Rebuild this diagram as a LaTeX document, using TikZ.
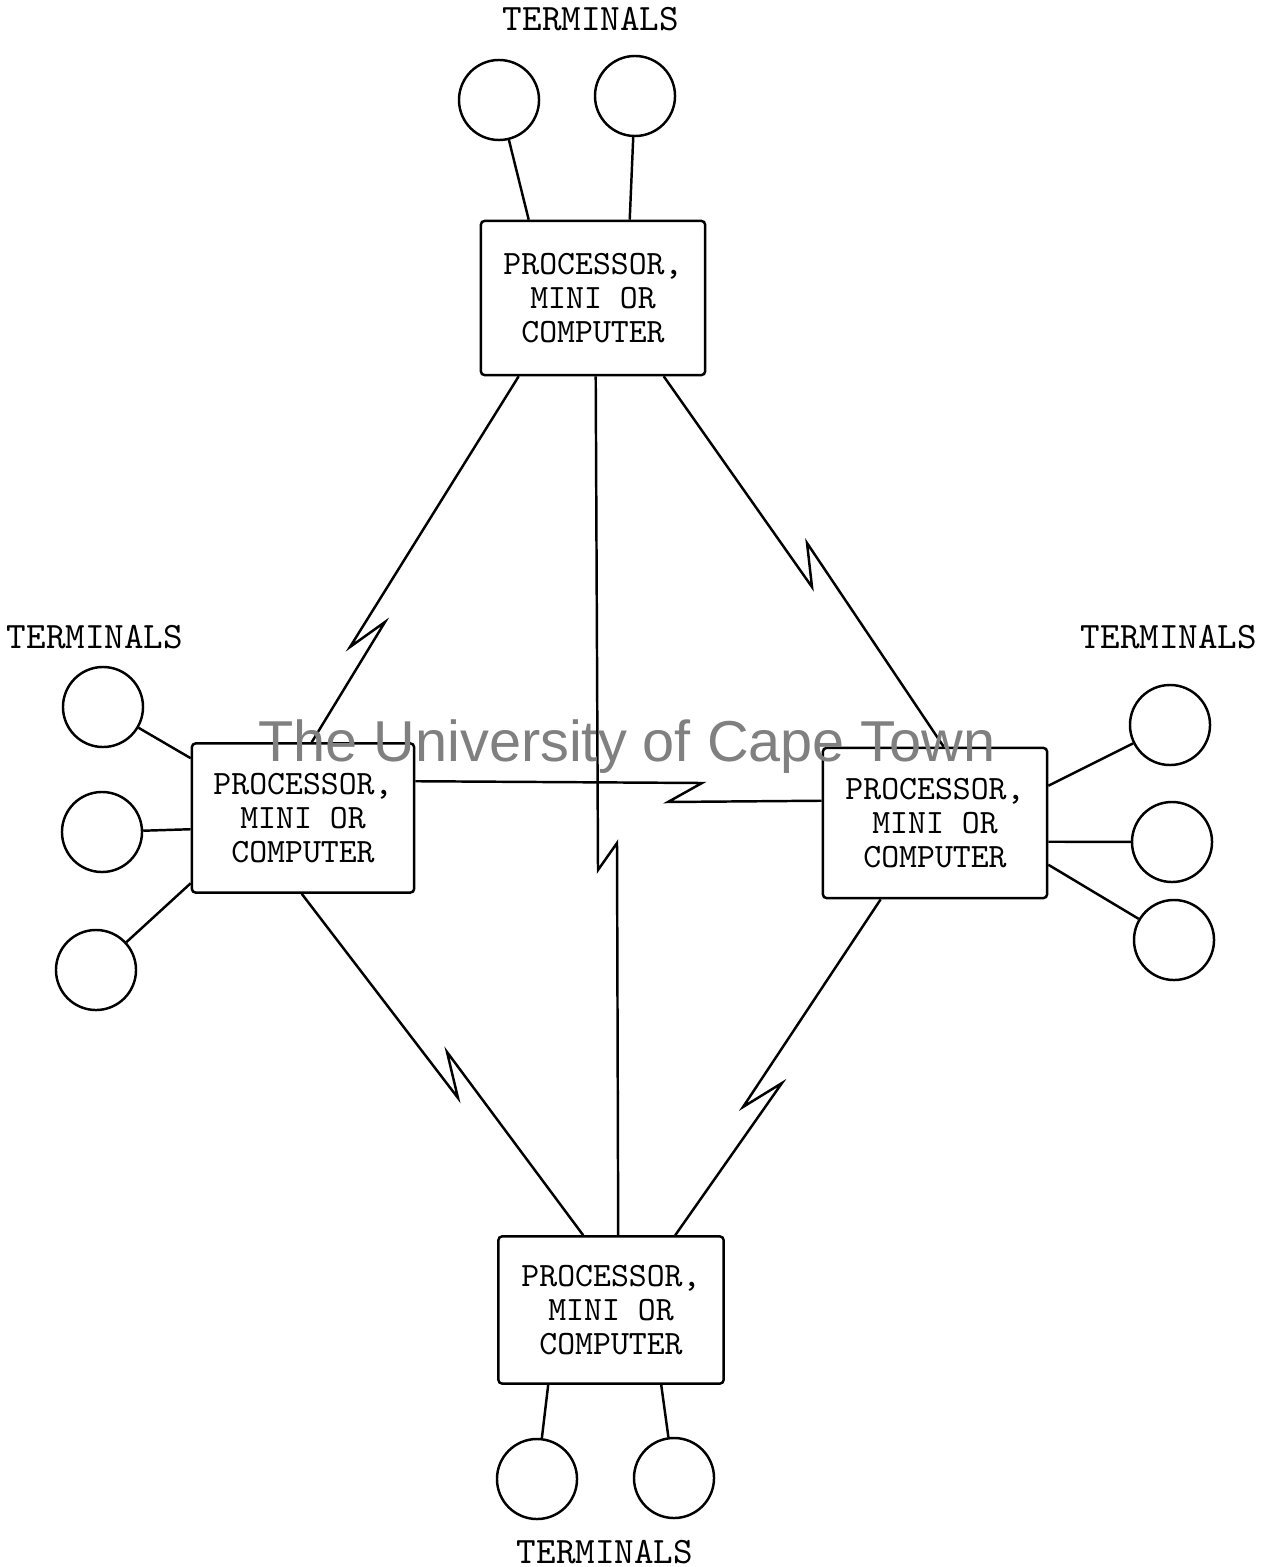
\documentclass[tikz,border=0pt]{standalone}
\usepackage{fontspec}
\setsansfont{Liberation Sans}
\usetikzlibrary{calc}
\tikzset{
  proc/.style={draw,rectangle,rounded corners=1pt,minimum width=2.24cm,minimum height=1.5cm,
    inner sep=0pt,align=center,font=\fontsize{9.7}{9.6}\selectfont\ttfamily},
  term/.style={draw,circle,minimum size=0.8cm,inner sep=0pt},
  lbl/.style={font=\fontsize{10.6}{12}\selectfont\ttfamily}
}
\begin{document}
\begin{tikzpicture}[x=0.01cm,y=-0.01cm,line width=0.7pt]
\useasboundingbox (0,0) rectangle (1272,1567);
% processors
\node[proc,minimum height=1.54cm] (top) at (593,298) {PROCESSOR,\\MINI OR\\COMPUTER};
\node[proc,minimum width=2.22cm,minimum height=1.49cm] (left) at (303,818) {PROCESSOR,\\MINI OR\\COMPUTER};
\node[proc] (right) at (935,823) {PROCESSOR,\\MINI OR\\COMPUTER};
\node[proc,minimum width=2.25cm,minimum height=1.47cm] (bottom) at (611,1310) {PROCESSOR,\\MINI OR\\COMPUTER};
%
% terminals
\node[term] (tt1) at (499,100) {};
\node[term] (tt2) at (635,96) {};
\node[term] (lt1) at (103,707) {};
\node[term] (lt2) at (102,832) {};
\node[term] (lt3) at (96,970) {};
\node[term] (rt1) at (1170,725) {};
\node[term] (rt2) at (1172,842) {};
\node[term] (rt3) at (1174,940) {};
\node[term] (bt1) at (537,1479) {};
\node[term] (bt2) at (674,1478) {};
\node[lbl] (ttl) at (591,19) {TERMINALS};
\node[lbl] (ltl) at (95,637) {TERMINALS};
\node[lbl] (rtl) at (1169,637) {TERMINALS};
\node[lbl] (btl) at (605,1552) {TERMINALS};
%
\draw (tt1) -- ($(top.north west)+(49,0)$);
\draw (tt2) -- ($(top.north west)+(150,0)$);
\draw (lt1) -- ($(left.north west)+(0,16)$);
\draw (lt2) -- ($(left.north west)+(0,87)$);
\draw (lt3) -- ($(left.north west)+(0,141)$);
\draw (rt1) -- ($(right.north east)+(0,39)$);
\draw (rt2) -- ($(right.north east)+(0,95)$);
\draw (rt3) -- ($(right.north east)+(0,118)$);
\draw (bt1) -- ($(bottom.south west)+(51,0)$);
\draw (bt2) -- ($(bottom.south west)+(164,0)$);
%
% links, each with its zigzag
\draw ($(top.south west)+(39,0)$) -- (350,647) -- (385,622) -- ($(left.north west)+(121,0)$);
\draw ($(top.south west)+(184,0)$) -- (812,587) -- (807,543) -- ($(right.north west)+(122,0)$);
\draw ($(top.south west)+(116,0)$) -- (598,870) -- (617,843) -- ($(bottom.north west)+(121,0)$);
\draw ($(left.north east)+(0,39)$) -- (702,783) -- (668,802) -- ($(right.north west)+(0,54)$);
\draw ($(left.south west)+(111,0)$) -- (458,1098) -- (447,1052) -- ($(bottom.north west)+(86,0)$);
\draw ($(right.south west)+(59,0)$) -- (743,1107) -- (782,1083) -- ($(bottom.north west)+(178,0)$);
%
\node[text=gray,inner sep=0pt,font=\fontsize{16.4}{18}\selectfont\sffamily] (wm) at (627,747) {The University of Cape Town};
\end{tikzpicture}
\end{document}
